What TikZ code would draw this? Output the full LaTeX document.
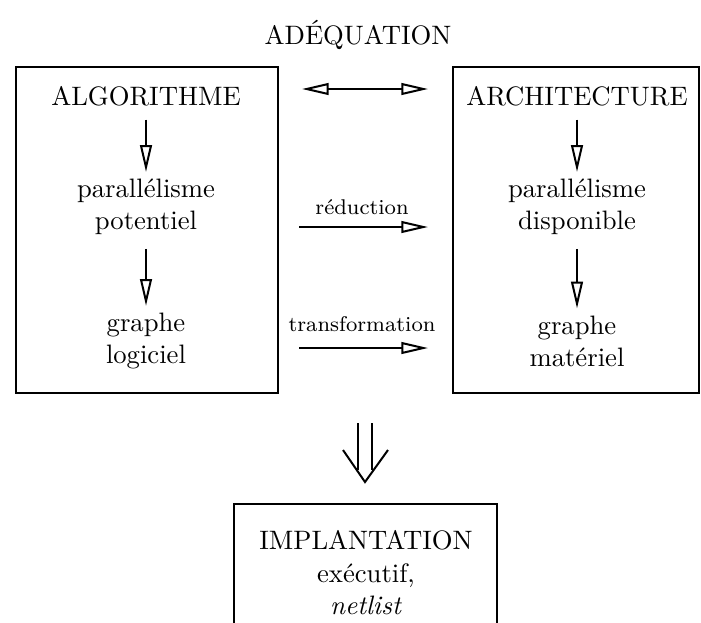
\documentclass[tikz,border=0pt]{standalone}
\usepackage{fontspec}
\usetikzlibrary{arrows.meta,calc}
\begin{document}
\begin{tikzpicture}[x=0.375pt,y=-0.375pt,
  box/.style={draw, line width=0.8pt, inner sep=0pt},
  lbl/.style={font=\normalsize, align=center, inner sep=0pt},
  small/.style={font=\footnotesize, inner sep=0pt},
  flow/.style={line width=0.75pt, -{Triangle[open, length=10pt, width=4.4pt]}},
  both/.style={line width=0.75pt, {Triangle[open, length=10pt, width=4.4pt]}-{Triangle[open, length=10pt, width=4.4pt]}},
]
\useasboundingbox (0,0) rectangle (701,622);
\clip (0,0) rectangle (701,622);

% title
\node[lbl] (adeq) at (358,35) {ADÉQUATION};

% the two frames
\node[box, minimum width=98.25pt, minimum height=122.25pt] (algbox) at (147,230) {};
\node[box, minimum width=92.25pt, minimum height=122.25pt] (archbox) at (576,230) {};

% left column
\node[lbl] (alg) at (146,96) {ALGORITHME};
\node[lbl] (par1) at (146,207) {parallélisme\\potentiel};
\node[lbl] (gl) at (146,341) {graphe\\logiciel};
\draw[flow, shorten <=5pt, shorten >=2.5pt] (alg) -- (par1);
\draw[flow, shorten <=5pt, shorten >=2.5pt] (par1) -- (gl);

% right column
\node[lbl] (arch) at (577,96) {ARCHITECTURE};
\node[lbl] (par2) at (577,207) {parallélisme\\disponible};
\node[lbl] (gm) at (577,341) {graphe\\matériel};
\draw[flow, shorten <=5pt, shorten >=2.5pt] (arch) -- (par2);
\draw[flow, shorten <=5pt, shorten >=2.5pt] (par2) -- (gm);

% links between the frames
\coordinate (al) at (302,89);
\coordinate (ar) at (428,89);
\draw[both] (al) -- (ar);

\coordinate (rl) at (299,227);
\coordinate (rr) at (428,227);
\draw[flow] (rl) -- (rr);
\node[small] (red) at (362,207) {réduction};

\coordinate (tl) at (299,348);
\coordinate (tr) at (428,348);
\draw[flow] (tl) -- (tr);
\node[small] (trans) at (362,324) {transformation};

% implication arrow
\coordinate (dtop) at (365,423);
\coordinate (dtip) at (365,482);
\draw[line width=0.75pt] ($(dtop)+(-7,0)$) -- ($(dtip)+(-7,-12)$);
\draw[line width=0.75pt] ($(dtop)+(7,0)$) -- ($(dtip)+(7,-12)$);
\draw[line width=0.75pt] ($(dtip)+(-22,-32)$) -- (dtip) -- ($(dtip)+(23,-32)$);

% result frame
\node[box, minimum width=98.6pt, minimum height=51pt] (implbox) at (365.5,572) {};
\node[lbl] (impl) at (366,540) {IMPLANTATION};
\node[lbl] (exec) at (366,589) {exécutif,\\\textit{netlist}};
\end{tikzpicture}
\end{document}
